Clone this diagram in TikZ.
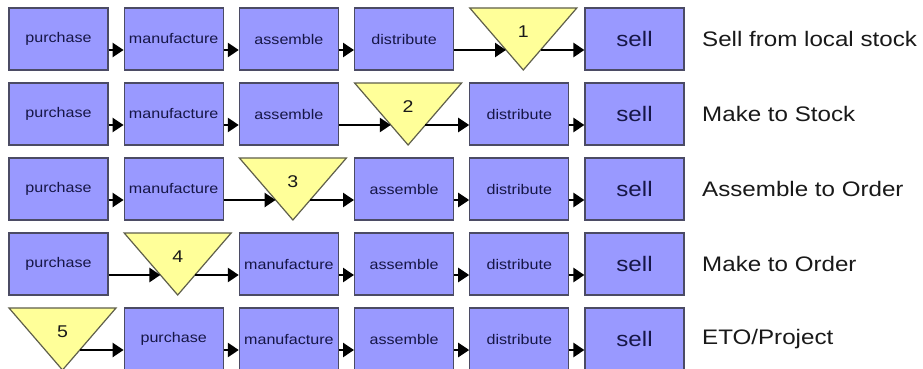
\documentclass[tikz,border=0pt]{standalone}
\usepackage{fontspec}
\setmainfont{Liberation Sans}[FakeStretch=1.15]
\usetikzlibrary{arrows.meta}

\definecolor{boxfill}{RGB}{153,153,255}
\definecolor{boxedge}{RGB}{75,75,100}
\definecolor{boxtext}{RGB}{22,22,70}
\definecolor{stockfill}{RGB}{255,255,153}
\definecolor{stockedge}{RGB}{95,95,75}

\tikzset{
  procbox/.style={draw=boxedge, fill=boxfill, line width=1.2pt,
    minimum width=99pt, minimum height=62pt, inner sep=0pt,
    text=boxtext, font=\fontsize{14}{16}\selectfont},
  sellbox/.style={procbox, font=\fontsize{21}{24}\selectfont},
  stockshape/.style={draw=stockedge, fill=stockfill, line width=1.2pt, line join=miter},
  stocknum/.style={inner sep=0pt, text=black!90, font=\fontsize{17}{19}\selectfont},
  strategy/.style={anchor=west, inner sep=0pt, text=black!90, font=\fontsize{21}{24}\selectfont},
  flow/.style={line width=2.5pt, -{Triangle[length=11pt,width=14pt]}}
}

% column c: left edge 9 + 115.2c ; row r: top edge 8 + 75r
\newcommand{\procstep}[4]{% name, column, row, label
  \node[procbox] (#1) at ({58.5+115.2*#2},{-39-75*#3}) {#4};}
\newcommand{\sellstep}[3]{% name, column, row
  \node[sellbox] (#1) at ({58.5+115.2*#2},{-39-75*#3}) {sell};}
\newcommand{\stockpoint}[4]{% name, column, row, number
  \draw[stockshape] ({9+115.2*#2},{-8-75*#3}) -- ({116+115.2*#2},{-8-75*#3})
    -- ({62.5+115.2*#2},{-70-75*#3}) -- cycle;
  \coordinate (#1in)  at ({45.2+115.2*#2},{-50-75*#3});
  \coordinate (#1out) at ({79.8+115.2*#2},{-50-75*#3});
  \node[stocknum] (#1) at ({62.5+115.2*#2},{-32-75*#3}) {#4};}
\newcommand{\strategy}[3]{% name, row, text
  \node[strategy] (#1) at (702,{-39-75*#2}) {#3};}

\begin{document}
\begin{tikzpicture}[x=1pt,y=1pt]
  \useasboundingbox[fill=white] (0,0) rectangle (923,-369);

  % row 0: sell from local stock
  \procstep{a1}{0}{0}{purchase}
  \procstep{a2}{1}{0}{manufacture}
  \procstep{a3}{2}{0}{assemble}
  \procstep{a4}{3}{0}{distribute}
  \stockpoint{s1}{4}{0}{1}
  \sellstep{a6}{5}{0}
  \strategy{l1}{0}{Sell from local stock}
  \draw[flow] ([yshift=-11pt]a1.east) -- ([yshift=-11pt]a2.west);
  \draw[flow] ([yshift=-11pt]a2.east) -- ([yshift=-11pt]a3.west);
  \draw[flow] ([yshift=-11pt]a3.east) -- ([yshift=-11pt]a4.west);
  \draw[flow] ([yshift=-11pt]a4.east) -- (s1in);
  \draw[flow] (s1out) -- ([yshift=-11pt]a6.west);

  % row 1: make to stock
  \procstep{b1}{0}{1}{purchase}
  \procstep{b2}{1}{1}{manufacture}
  \procstep{b3}{2}{1}{assemble}
  \stockpoint{s2}{3}{1}{2}
  \procstep{b5}{4}{1}{distribute}
  \sellstep{b6}{5}{1}
  \strategy{l2}{1}{Make to Stock}
  \draw[flow] ([yshift=-11pt]b1.east) -- ([yshift=-11pt]b2.west);
  \draw[flow] ([yshift=-11pt]b2.east) -- ([yshift=-11pt]b3.west);
  \draw[flow] ([yshift=-11pt]b3.east) -- (s2in);
  \draw[flow] (s2out) -- ([yshift=-11pt]b5.west);
  \draw[flow] ([yshift=-11pt]b5.east) -- ([yshift=-11pt]b6.west);

  % row 2: assemble to order
  \procstep{c1}{0}{2}{purchase}
  \procstep{c2}{1}{2}{manufacture}
  \stockpoint{s3}{2}{2}{3}
  \procstep{c4}{3}{2}{assemble}
  \procstep{c5}{4}{2}{distribute}
  \sellstep{c6}{5}{2}
  \strategy{l3}{2}{Assemble to Order}
  \draw[flow] ([yshift=-11pt]c1.east) -- ([yshift=-11pt]c2.west);
  \draw[flow] ([yshift=-11pt]c2.east) -- (s3in);
  \draw[flow] (s3out) -- ([yshift=-11pt]c4.west);
  \draw[flow] ([yshift=-11pt]c4.east) -- ([yshift=-11pt]c5.west);
  \draw[flow] ([yshift=-11pt]c5.east) -- ([yshift=-11pt]c6.west);

  % row 3: make to order
  \procstep{d1}{0}{3}{purchase}
  \stockpoint{s4}{1}{3}{4}
  \procstep{d3}{2}{3}{manufacture}
  \procstep{d4}{3}{3}{assemble}
  \procstep{d5}{4}{3}{distribute}
  \sellstep{d6}{5}{3}
  \strategy{l4}{3}{Make to Order}
  \draw[flow] ([yshift=-11pt]d1.east) -- (s4in);
  \draw[flow] (s4out) -- ([yshift=-11pt]d3.west);
  \draw[flow] ([yshift=-11pt]d3.east) -- ([yshift=-11pt]d4.west);
  \draw[flow] ([yshift=-11pt]d4.east) -- ([yshift=-11pt]d5.west);
  \draw[flow] ([yshift=-11pt]d5.east) -- ([yshift=-11pt]d6.west);

  % row 4: engineer to order / project
  \stockpoint{s5}{0}{4}{5}
  \procstep{e2}{1}{4}{purchase}
  \procstep{e3}{2}{4}{manufacture}
  \procstep{e4}{3}{4}{assemble}
  \procstep{e5}{4}{4}{distribute}
  \sellstep{e6}{5}{4}
  \strategy{l5}{4}{ETO/Project}
  \draw[flow] (s5out) -- ([yshift=-11pt]e2.west);
  \draw[flow] ([yshift=-11pt]e2.east) -- ([yshift=-11pt]e3.west);
  \draw[flow] ([yshift=-11pt]e3.east) -- ([yshift=-11pt]e4.west);
  \draw[flow] ([yshift=-11pt]e4.east) -- ([yshift=-11pt]e5.west);
  \draw[flow] ([yshift=-11pt]e5.east) -- ([yshift=-11pt]e6.west);
\end{tikzpicture}
\end{document}
